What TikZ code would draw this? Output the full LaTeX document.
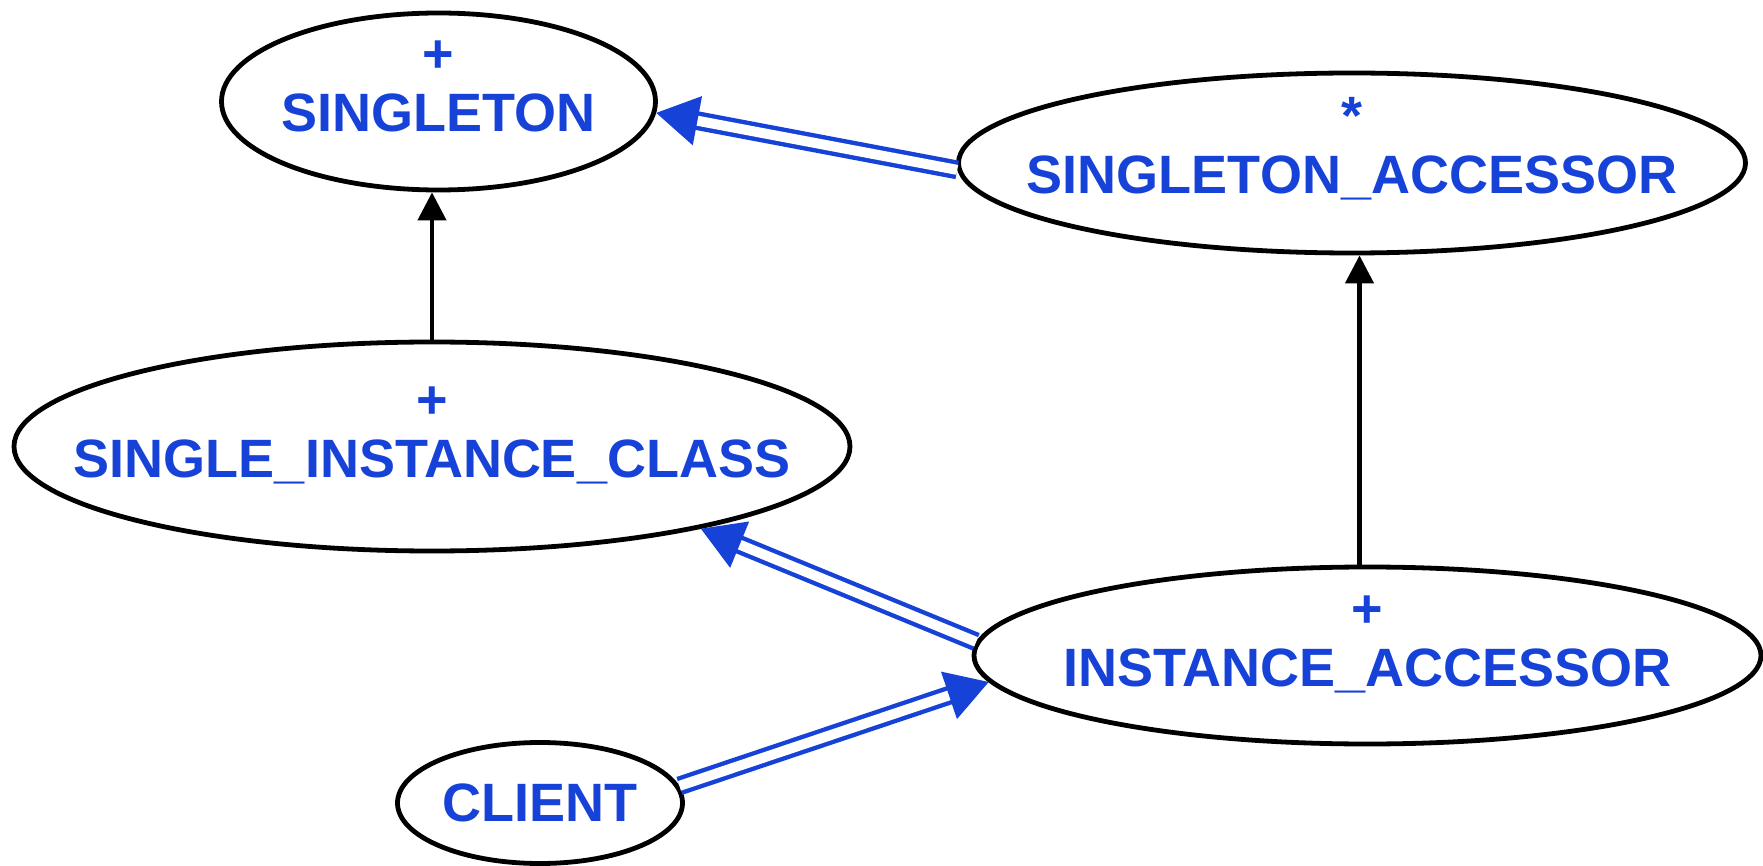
\documentclass[tikz,border=0pt]{standalone}
\usepackage{fontspec}
\setmainfont{Liberation Sans}
\usepackage{tikz}
\usetikzlibrary{shapes.geometric, arrows.meta}

\definecolor{clsblue}{RGB}{22,66,216}

% two-line class label with fixed line heights
\newcommand{\cls}[2]{\rule{0pt}{20pt}#1\\#2\rule[-19pt]{0pt}{19pt}}

\begin{document}
\begin{tikzpicture}[
        x=0.5pt, y=-0.5pt,
        every node/.style={align=center},
        class/.style={
            ellipse, draw=black, line width=2.4pt,
            inner xsep=-40pt, inner ysep=-10pt,
            text=clsblue, font=\fontsize{27}{29.5}\selectfont\bfseries
        },
        inh/.style={-{Triangle[length=14pt,width=14pt]}, line width=2.2pt, black},
        use/.style={-{Triangle[length=21pt,width=24.5pt]}, draw=clsblue, line width=2.2pt,
            double=white, double distance=5pt}
    ]
    \useasboundingbox (0,0) rectangle (1763,866);

    \node[class, minimum width=217pt, minimum height=88.5pt] (singleton) at (438.5,101.5) {\cls{+}{SINGLETON}};
    \node[class, minimum width=393.5pt, minimum height=90pt] (accessor) at (1352,163) {\cls{*}{SINGLETON\_ACCESSOR}};
    \node[class, minimum width=418pt, minimum height=104.5pt] (single) at (432,446.5) {\cls{+}{SINGLE\_INSTANCE\_CLASS}};
    \node[class, minimum width=393.5pt, minimum height=88.5pt] (instance) at (1367.5,655.5) {\cls{+}{INSTANCE\_ACCESSOR}};
    \node[class, minimum width=142.5pt, minimum height=60.5pt] (client) at (540,803) {CLIENT};

    \draw[inh] (single.north) -- (single.north |- singleton.south);
    \draw[inh] ([xshift=-4pt]instance.north) -- ([xshift=-4pt]instance.north |- accessor.south);

    \draw[use] (accessor.181) -- (singleton.-3);
    \draw[use] (instance.178) -- (single.-17.5);
    \draw[use] (client.7) -- (instance.-176);
\end{tikzpicture}
\end{document}
